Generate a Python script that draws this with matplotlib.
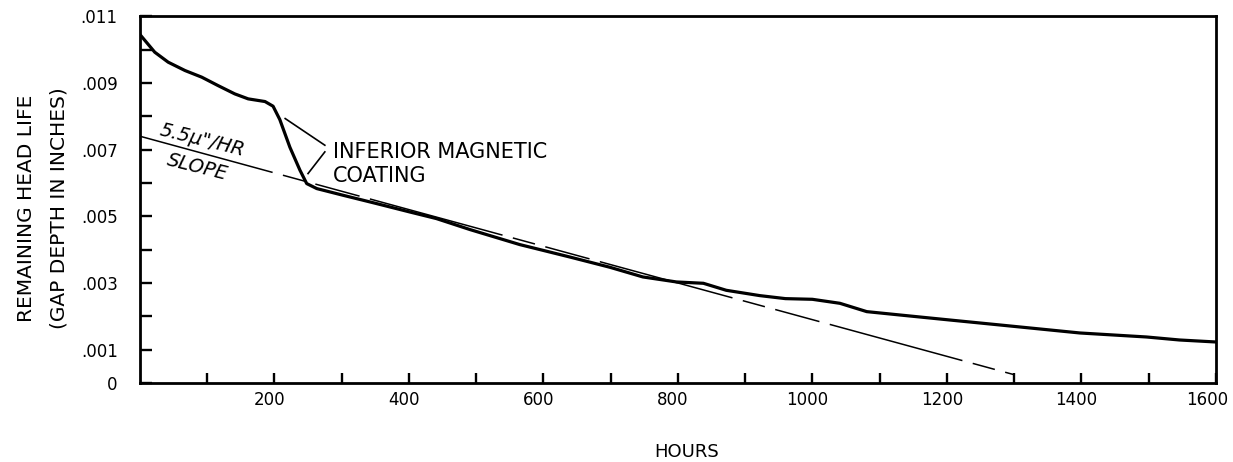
import matplotlib
matplotlib.use('Agg')
import matplotlib.pyplot as plt
import matplotlib.transforms as mtransforms

# measured head wear curve (hours, remaining gap depth in inches)
hours = [0, 22, 42, 67, 92, 116, 141, 161, 186, 198, 208, 223, 238, 248, 263,
         302, 352, 401, 441, 491, 565, 639, 699, 748, 798, 838, 872, 922, 960,
         1000, 1041, 1081, 1130, 1204, 1279, 1398, 1497, 1546, 1600]
depth = [0.01045, 0.00992, 0.00962, 0.00937, 0.00917, 0.00892, 0.00867, 0.00852,
         0.00844, 0.00830, 0.00790, 0.00707, 0.00638, 0.00598, 0.00583,
         0.00563, 0.00538, 0.00513, 0.00493, 0.00460, 0.00415, 0.00378,
         0.00347, 0.00318, 0.00303, 0.00299, 0.00278, 0.00262, 0.00253,
         0.00251, 0.00239, 0.00214, 0.00204, 0.00189, 0.00174, 0.00150,
         0.00138, 0.00129, 0.00123]

# 5.5 micro-inch / hour reference slope
slope_hours = [0, 1300]
slope_depth = [0.0074, 0.00025]

y_major = [0, 0.001, 0.003, 0.005, 0.007, 0.009, 0.011]
y_labels = ['0', '.001', '.003', '.005', '.007', '.009', '.011']
y_minor = [0.002, 0.004, 0.006, 0.008, 0.010]
x_major = [200, 400, 600, 800, 1000, 1200, 1400, 1600]
x_minor = [100, 300, 500, 700, 900, 1100, 1300, 1500]

plt.rcParams['font.family'] = 'DejaVu Sans'
fig = plt.figure(figsize=(12.33, 4.62), dpi=100)
ax = fig.add_axes([0.1135, 0.171, 0.8725, 0.794])

ax.plot(hours, depth, color='black', lw=2.3, solid_joinstyle='round',
        solid_capstyle='round')
ax.plot(slope_hours, slope_depth, color='black', lw=1.1,
        linestyle=(0, (90, 7, 15, 7, 30, 7)))

ax.set_xlim(0, 1600)
ax.set_ylim(0, 0.011)

ax.set_yticks(y_major)
ax.set_yticklabels(y_labels)
ax.set_yticks(y_minor, minor=True)
ax.set_xticks(x_major)
ax.set_xticks(x_minor, minor=True)

ax.tick_params(axis='both', which='both', direction='in', width=1.7, labelsize=12)
ax.tick_params(axis='y', which='both', length=8.5, pad=16)
ax.tick_params(axis='x', which='both', length=7, pad=6)
for s in ax.spines.values():
    s.set_linewidth(2.0)

# nudge x labels slightly left like the original
for i, lab in enumerate(ax.get_xticklabels()):
    dx = -9 if i == len(x_major) - 1 else -5
    lab.set_transform(lab.get_transform() +
                      mtransforms.ScaledTranslation(dx / 100, 0, fig.dpi_scale_trans))

ax.set_xlabel('HOURS', fontsize=13)
ax.xaxis.set_label_coords(0.508, -0.163)
ax.set_ylabel('REMAINING HEAD LIFE\n(GAP DEPTH IN INCHES)', fontsize=14.5,
              linespacing=1.9)
ax.yaxis.set_label_coords(-0.066, 0.477)

ax.text(92, 0.00728, '5.5\u00b5"/HR', fontsize=14, style='italic',
        rotation=-14, rotation_mode='anchor', ha='center', va='center')
ax.text(85, 0.00647, 'SLOPE', fontsize=14, style='italic',
        rotation=-14, rotation_mode='anchor', ha='center', va='center')

# bracket pointing at the drop
ax.plot([216, 275], [0.00793, 0.00713], color='black', lw=1.2)
ax.plot([275, 250], [0.00693, 0.00628], color='black', lw=1.2)
ax.text(287, 0.00674, 'INFERIOR MAGNETIC', fontsize=15, va='baseline')
ax.text(287, 0.00602, 'COATING', fontsize=15, va='baseline')

fig.savefig('out.png', dpi=100)
